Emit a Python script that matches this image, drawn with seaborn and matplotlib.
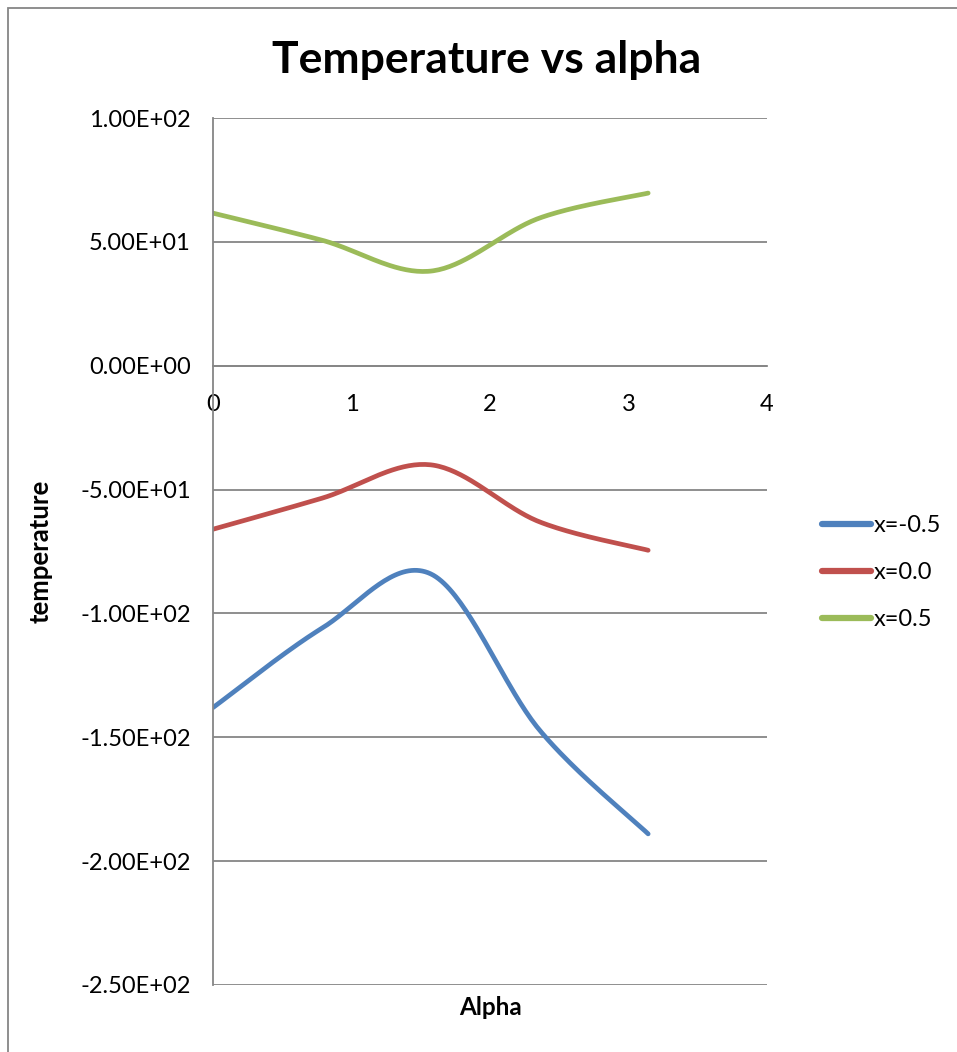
import numpy as np
import pandas as pd
import matplotlib
matplotlib.use("Agg")
import matplotlib.pyplot as plt
import seaborn as sns
from matplotlib.patches import Rectangle

# Sampled angles and temperatures for the three positions
alpha = [0.0, np.pi / 4, np.pi / 2, 3 * np.pi / 4, np.pi]
temp_neg = [-138.0, -106.0, -84.0, -147.0, -189.0]
temp_zero = [-66.0, -53.5, -40.0, -63.0, -74.5]
temp_pos = [61.6, 50.7, 38.2, 59.6, 69.7]
series_names = ["x=-0.5", "x=0.0", "x=0.5"]
series_colors = ["#4F81BD", "#C0504D", "#9BBB59"]
y_ticks = [100, 50, 0, -50, -100, -150, -200, -250]
x_ticks = [0, 1, 2, 3, 4]


def smooth_curve(xs, ys, steps=40):
    """Cardinal (Catmull-Rom) bezier smoothing through the given points."""
    p = np.column_stack([xs, ys]).astype(float)
    n = len(p)
    out = []
    for i in range(n - 1):
        p0 = p[i - 1] if i > 0 else p[i]
        p1 = p[i]
        p2 = p[i + 1]
        p3 = p[i + 2] if i + 2 < n else p[i + 1]
        c1 = p1 + (p2 - p0) / 6.0
        c2 = p2 - (p3 - p1) / 6.0
        t = np.linspace(0, 1, steps, endpoint=(i == n - 2))[:, None]
        seg = ((1 - t) ** 3) * p1 + 3 * ((1 - t) ** 2) * t * c1 + 3 * (1 - t) * t ** 2 * c2 + t ** 3 * p2
        out.append(seg)
    arr = np.vstack(out)
    return arr[:, 0], arr[:, 1]


frames = []
for name, vals in zip(series_names, [temp_neg, temp_zero, temp_pos]):
    sx, sy = smooth_curve(alpha, vals)
    frames.append(pd.DataFrame({"alpha": sx, "temperature": sy, "series": name}))
df = pd.concat(frames, ignore_index=True)

sns.set_theme(style="white")
plt.rcParams["font.family"] = ["Lato", "DejaVu Sans"]
plt.rcParams["text.color"] = "black"
plt.rcParams["axes.labelcolor"] = "black"

fig = plt.figure(figsize=(9.57, 10.52), dpi=100)
ax = fig.add_axes([0.2226, 0.0637, 0.5789, 0.8241])

sns.lineplot(data=df, x="alpha", y="temperature", hue="series",
             hue_order=series_names, palette=series_colors,
             linewidth=3.4, sort=False, ax=ax, estimator=None)
for line in ax.get_lines():
    line.set_solid_capstyle("round")

ax.set_xlim(0, 4)
ax.set_ylim(-250, 100)
ax.set_yticks(y_ticks)
ax.set_yticklabels([f"{v:.2E}" for v in y_ticks])
ax.set_xticks(x_ticks)
ax.set_xticklabels([str(v) for v in x_ticks])

ax.yaxis.grid(True, color="#868686", linewidth=1.3)
ax.xaxis.grid(False)
for s in ["top", "right"]:
    ax.spines[s].set_visible(False)
ax.spines["left"].set_color("#868686")
ax.spines["left"].set_linewidth(1.3)
ax.spines["bottom"].set_position(("data", 0))
ax.spines["bottom"].set_color("#868686")
ax.spines["bottom"].set_linewidth(1.3)
ax.set_axisbelow(True)

ax.tick_params(axis="y", labelsize=17, pad=16, length=0, labelcolor="black")
ax.tick_params(axis="x", labelsize=17, pad=20, length=0, labelcolor="black")

ax.set_xlabel("Alpha", fontsize=17.5, fontweight="bold", labelpad=0)
ax.xaxis.set_label_coords(0.5, -0.013)
ax.set_ylabel("temperature", fontsize=18.5, fontweight="bold")
ax.yaxis.set_label_coords(-0.29, 0.5)

fig.suptitle("Temperature vs alpha", fontsize=32, fontweight="bold", x=0.508, y=0.962)

leg = ax.legend(loc="center left", bbox_to_anchor=(1.06, 0.476), frameon=False,
                fontsize=17, handlelength=2.1, handletextpad=0.1, labelspacing=1.1)
for h in leg.get_lines():
    h.set_linewidth(4.5)

fig.patches.append(Rectangle((0.008, -0.01), 1.2, 1.002, transform=fig.transFigure,
                             fill=False, edgecolor="#868686", linewidth=1.3))

fig.savefig("out.png", dpi=100, facecolor="white")
